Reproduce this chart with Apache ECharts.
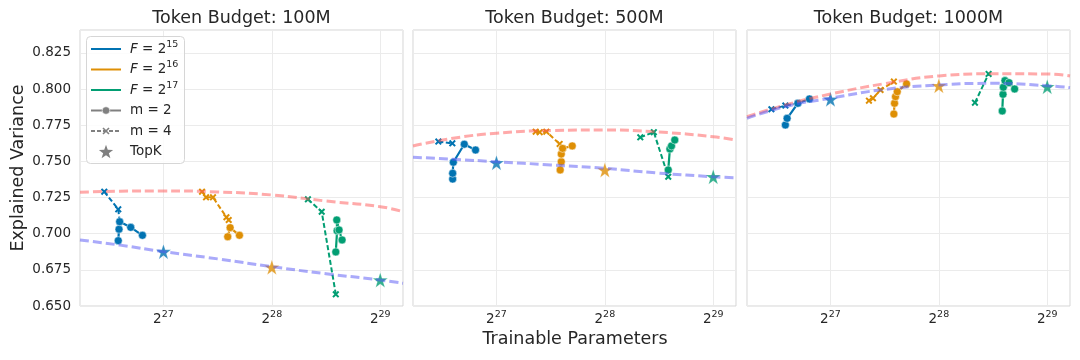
<!DOCTYPE html>
<html>
<head>
<meta charset="utf-8">
<script src="https://cdn.jsdelivr.net/npm/echarts@6/dist/echarts.min.js"></script>
<style>
html, body { margin: 0; padding: 0; background: #fff; }
#chart { width: 1080px; height: 360px; }
</style>
</head>
<body>
<div id="chart"></div>
<script>
// x = log2(trainable parameters), y = explained variance
const budgets = ['100M', '500M', '1000M'];
const fExponents = ['15', '16', '17'];
const xTickExponents = [27, 28, 29];

// m = 2 runs, one list per F (2^15, 2^16, 2^17)
const m2_100M = [
  [[26.583, 0.6952], [26.590, 0.7031], [26.596, 0.7083], [26.698, 0.7044], [26.806, 0.6989]],
  [[27.593, 0.6979], [27.615, 0.7042], [27.701, 0.6989]],
  [[28.590, 0.6874], [28.602, 0.7020], [28.599, 0.7095], [28.620, 0.7026], [28.648, 0.6957]]
];
const m2_500M = [
  [[26.596, 0.7378], [26.596, 0.7418], [26.602, 0.7494], [26.703, 0.7619], [26.807, 0.7579]],
  [[27.588, 0.7441], [27.598, 0.7498], [27.598, 0.7551], [27.610, 0.7590], [27.699, 0.7607]],
  [[28.585, 0.7441], [28.600, 0.7586], [28.615, 0.7607], [28.645, 0.7648]]
];
const m2_1000M = [
  [[26.584, 0.7752], [26.600, 0.7798], [26.699, 0.7902], [26.806, 0.7932]],
  [[27.585, 0.7828], [27.591, 0.7902], [27.600, 0.7948], [27.616, 0.7982], [27.702, 0.8036]],
  [[28.585, 0.7849], [28.592, 0.7964], [28.595, 0.8013], [28.610, 0.8059], [28.647, 0.8045], [28.699, 0.8001]]
];

// m = 4 runs
const m4_100M = [
  [[26.454, 0.7291], [26.583, 0.7169], [26.596, 0.7083]],
  [[27.356, 0.7291], [27.393, 0.7252], [27.457, 0.7252], [27.581, 0.7114], [27.602, 0.7095]],
  [[28.333, 0.7238], [28.460, 0.7152], [28.590, 0.6581]]
];
const m4_500M = [
  [[26.464, 0.7637], [26.593, 0.7625]],
  [[27.362, 0.7706], [27.399, 0.7702], [27.460, 0.7706], [27.583, 0.7621], [27.613, 0.7591]],
  [[28.327, 0.7667], [28.452, 0.7702], [28.585, 0.7394]]
];
const m4_1000M = [
  [[26.455, 0.7861], [26.584, 0.7886], [26.699, 0.7902]],
  [[27.355, 0.7920], [27.392, 0.7937], [27.462, 0.7994], [27.585, 0.8052]],
  [[28.333, 0.7906], [28.459, 0.8105]]
];

// TopK baselines, at 2^27, 2^28, 2^29 (F = 2^15, 2^16, 2^17)
const topkX = [27, 28, 29];
const topk_100M = [0.6876, 0.6768, 0.6680];
const topk_500M = [0.7491, 0.7441, 0.7394];
const topk_1000M = [0.7930, 0.8024, 0.8017];

// fitted trend curves
const curveX = [26.23, 26.6, 27.0, 27.5, 28.0, 28.5, 29.0, 29.21];
const upper_100M = [0.7287, 0.7294, 0.7296, 0.7289, 0.7268, 0.7226, 0.7187, 0.7152];
const lower_100M = [0.6957, 0.6921, 0.6876, 0.6826, 0.6772, 0.6723, 0.6680, 0.6657];
const upper_500M = [0.7607, 0.7660, 0.7695, 0.7714, 0.7717, 0.7703, 0.7671, 0.7648];
const lower_500M = [0.7529, 0.7515, 0.7498, 0.7476, 0.7452, 0.7419, 0.7394, 0.7387];
const upper_1000M = [0.7809, 0.7894, 0.7966, 0.8038, 0.8091, 0.8106, 0.8105, 0.8091];
const lower_1000M = [0.7798, 0.7882, 0.7937, 0.7998, 0.8029, 0.8040, 0.8024, 0.8010];

const m2Sets = [m2_100M, m2_500M, m2_1000M];
const m4Sets = [m4_100M, m4_500M, m4_1000M];
const topkSets = [topk_100M, topk_500M, topk_1000M];
const upperSets = [upper_100M, upper_500M, upper_1000M];
const lowerSets = [lower_100M, lower_500M, lower_1000M];

const font = '"DejaVu Sans", sans-serif';
const ink = '#262626';
const fColors = ['#0173b2', '#de8f05', '#029e73'];
const gridLeft = [80, 413, 747];
const gridW = 323;
const xSym = 'path://M2,0L5,3L8,0L10,2L7,5L10,8L8,10L5,7L2,10L0,8L3,5L0,2Z';
const starSym = 'path://M50,0L61.8,35.1L98.9,35.1L68.9,56.9L80.2,91.9L50,70.3L19.8,91.9L31.1,56.9L1.1,35.1L38.2,35.1Z';

const chart = echarts.init(document.getElementById('chart'));

const grids = [], xAxes = [], yAxes = [], series = [];
budgets.forEach((b, p) => {
  grids.push({ left: gridLeft[p], width: gridW, top: 30, height: 276, show: true,
    borderColor: '#d4d4d4', borderWidth: 1, backgroundColor: '#fff' });
  xAxes.push({
    type: 'value', gridIndex: p, min: 26.23, max: 29.21, splitNumber: 3,
    axisLine: { show: false }, axisTick: { show: false },
    splitLine: { lineStyle: { color: '#ebebeb', width: 1 } },
    axisLabel: {
      margin: 4,
      formatter: v => {
        const e = Math.round(v);
        return (Math.abs(v - e) < 1e-6 && xTickExponents.includes(e)) ? '{b|2}{s|' + e + '}' : '';
      },
      rich: {
        b: { fontFamily: font, fontSize: 13.5, color: ink },
        s: { fontFamily: font, fontSize: 9.5, color: ink, padding: [0, 0, 9, 0] }
      }
    }
  });
  yAxes.push({
    type: 'value', gridIndex: p, min: 0.65, max: 0.8409, interval: 0.025,
    axisLine: { show: false }, axisTick: { show: false },
    splitLine: { lineStyle: { color: '#ebebeb', width: 1 } },
    axisLabel: {
      show: p === 0, margin: 9, fontFamily: font, fontSize: 13.5, color: ink,
      formatter: v => {
        const k = v / 0.025;
        return Math.abs(k - Math.round(k)) < 1e-6 ? v.toFixed(3) : '';
      }
    }
  });

  fColors.forEach((c, f) => {
    series.push({
      type: 'line', xAxisIndex: p, yAxisIndex: p, data: m4Sets[p][f],
      symbol: xSym, symbolSize: 7, showAllSymbol: true,
      lineStyle: { color: c, width: 2, type: [5, 2.5] },
      itemStyle: { color: c }, z: 3
    });
    series.push({
      type: 'line', xAxisIndex: p, yAxisIndex: p, data: m2Sets[p][f],
      symbol: 'circle', symbolSize: 8, showAllSymbol: true,
      lineStyle: { color: c, width: 2.2 },
      itemStyle: { color: c, borderColor: '#fff', borderWidth: 0.5 }, z: 4
    });
  });
  series.push({
    type: 'scatter', xAxisIndex: p, yAxisIndex: p,
    data: topkX.map((x, i) => ({ value: [x, topkSets[p][i]], itemStyle: { color: fColors[i] } })),
    symbol: starSym, symbolSize: 15,
    itemStyle: { borderColor: '#fff', borderWidth: 0.3 }, z: 4
  });
  series.push({
    type: 'line', xAxisIndex: p, yAxisIndex: p, smooth: true, symbol: 'none',
    data: curveX.map((x, i) => [x, upperSets[p][i]]),
    lineStyle: { color: 'rgba(255,85,85,0.5)', width: 3, type: [9, 4] }, z: 6
  });
  series.push({
    type: 'line', xAxisIndex: p, yAxisIndex: p, smooth: true, symbol: 'none',
    data: curveX.map((x, i) => [x, lowerSets[p][i]]),
    lineStyle: { color: 'rgba(85,85,245,0.5)', width: 3, type: [9, 4] }, z: 6
  });
});

// legend and labels
const graphic = [];
budgets.forEach((b, p) => {
  graphic.push({ type: 'text', x: gridLeft[p] + gridW / 2, y: 18,
    style: { text: 'Token Budget: ' + b, font: '17.5px ' + font, fill: ink, align: 'center', verticalAlign: 'middle' } });
});
graphic.push({ type: 'text', x: 575, y: 339,
  style: { text: 'Trainable Parameters', font: '17.5px ' + font, fill: ink, align: 'center', verticalAlign: 'middle' } });
graphic.push({ type: 'text', x: 18, y: 168, rotation: Math.PI / 2,
  style: { text: 'Explained Variance', font: '17.5px ' + font, fill: ink, align: 'center', verticalAlign: 'middle' } });

graphic.push({ type: 'rect', shape: { x: 86.5, y: 36.5, width: 98, height: 127, r: 4 },
  style: { fill: 'rgba(255,255,255,0.85)', stroke: '#d6d6d6', lineWidth: 1 }, z: 10 });
const ly = [49, 69.5, 90, 110.5, 131, 151.5];
const grey = '#808080';
const richF = {
  i: { fontFamily: font, fontSize: 13.5, fontStyle: 'italic', fill: ink },
  n: { fontFamily: font, fontSize: 13.5, fill: ink },
  s: { fontFamily: font, fontSize: 9.5, fill: ink, padding: [0, 0, 9, 0] }
};
fColors.forEach((c, f) => {
  graphic.push({ type: 'line', shape: { x1: 91, y1: ly[f], x2: 121, y2: ly[f] },
    style: { stroke: c, lineWidth: 2 }, z: 11 });
  graphic.push({ type: 'text', x: 130, y: ly[f],
    style: { text: '{i|F}{n| = 2}{s|' + fExponents[f] + '}', rich: richF, verticalAlign: 'middle' }, z: 11 });
});
graphic.push({ type: 'line', shape: { x1: 91, y1: ly[3], x2: 121, y2: ly[3] }, style: { stroke: grey, lineWidth: 2 }, z: 11 });
graphic.push({ type: 'circle', shape: { cx: 106, cy: ly[3], r: 3.8 }, style: { fill: grey, stroke: '#fff', lineWidth: 0.6 }, z: 12 });
graphic.push({ type: 'line', shape: { x1: 91, y1: ly[4], x2: 121, y2: ly[4] }, style: { stroke: grey, lineWidth: 1.8, lineDash: [4, 2] }, z: 11 });
graphic.push({ type: 'line', shape: { x1: 103, y1: ly[4] - 3, x2: 109, y2: ly[4] + 3 }, style: { stroke: grey, lineWidth: 1.6 }, z: 12 });
graphic.push({ type: 'line', shape: { x1: 109, y1: ly[4] - 3, x2: 103, y2: ly[4] + 3 }, style: { stroke: grey, lineWidth: 1.6 }, z: 12 });
const starPts = [];
for (let k = 0; k < 10; k++) {
  const a = -Math.PI / 2 + k * Math.PI / 5;
  const r = k % 2 === 0 ? 7.5 : 3;
  starPts.push([106 + r * Math.cos(a), ly[5] + 0.8 + r * Math.sin(a)]);
}
graphic.push({ type: 'polygon', shape: { points: starPts }, style: { fill: grey }, z: 12 });
['m = 2', 'm = 4', 'TopK'].forEach((t, i) => {
  graphic.push({ type: 'text', x: 130, y: ly[3 + i],
    style: { text: t, font: '13.5px ' + font, fill: ink, verticalAlign: 'middle' }, z: 11 });
});

chart.setOption({
  animation: false,
  backgroundColor: '#fff',
  grid: grids,
  xAxis: xAxes,
  yAxis: yAxes,
  series: series,
  graphic: graphic
});
</script>
</body>
</html>
